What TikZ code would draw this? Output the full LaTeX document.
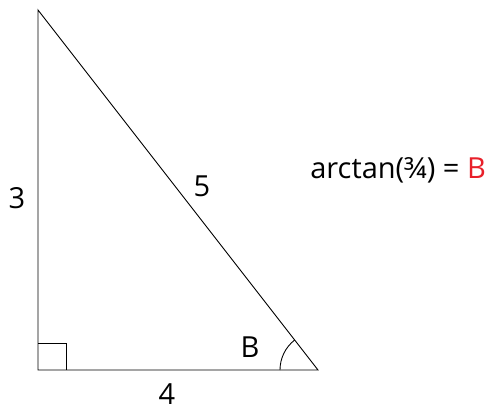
\documentclass[tikz,border=0pt]{standalone}
\usepackage{fontspec}
\setmainfont{Open Sans}
\usepackage{xcolor}
\definecolor{anglered}{HTML}{E8202A}

\begin{document}
\begin{tikzpicture}[x=0.02cm, y=-0.02cm]
  \tikzset{side/.style={font=\fontsize{16.5}{19}\selectfont, inner sep=0pt}}
  \useasboundingbox (0,0) rectangle (491,409);

  % --- triangle corners ---
  \coordinate (top) at (38,10);
  \coordinate (rightangle) at (38,370);
  \coordinate (cornerB) at (318,370);
  \draw[line width=0.5pt] (top) -- (rightangle) -- (cornerB) -- cycle;

  % --- right angle mark ---
  \draw[line width=0.5pt] (38,343) -- (66,343) -- (66,370);

  % --- angle B arc ---
  \draw[line width=0.5pt] ([shift={(-38,0)}]cornerB) arc[start angle=180, end angle=127.9, radius=0.76cm];

  % --- side lengths ---
  \node[side] (sideA) at (17,198) {3};
  \node[side] (sideC) at (202,186) {5};
  \node[side] (sideB) at (167,394) {4};
  \node[side] (angleB) at (250,347) {B};

  % --- formula ---
  \node[side, anchor=west] (formula) at (310,170) {arctan(¾) = \textcolor{anglered}{B}};
\end{tikzpicture}
\end{document}
